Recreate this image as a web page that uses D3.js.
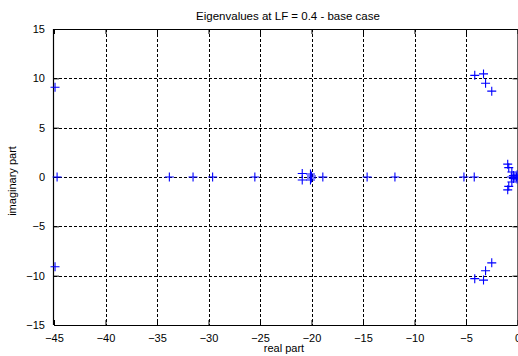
<!DOCTYPE html>
<html>
<head>
<meta charset="utf-8">
<script src="https://cdn.jsdelivr.net/npm/d3@7/dist/d3.min.js"></script>
<style>
  html, body { margin: 0; padding: 0; background: #fff; overflow: hidden; }
  svg { display: block; font-family: "Liberation Sans", Arial, sans-serif; }
</style>
</head>
<body>
<svg id="chart" width="518" height="356"></svg>
<script>
// Eigenvalues (real part, imaginary part) of the system at LF = 0.4
const realPart = [
  -44.9, -44.9, -44.7,
  -33.8, -31.5, -29.6, -25.5,
  -20.9, -20.9, -20.1, -20.1, -20.0, -20.0,
  -18.9, -14.6, -11.9, -5.2, -4.2,
  -4.15, -4.15, -3.3, -3.3, -3.1, -3.1, -2.5, -2.5,
  -0.95, -0.95, -0.85, -0.85, -0.55, -0.55, -0.6,
  -0.4, -0.4, -0.25, -0.1, -0.05, -0.05
];
const imagPart = [
  9.1, -9.1, 0,
  0, 0, 0, 0,
  0.35, -0.3, 0.3, -0.3, 0.1, -0.1,
  0, 0, 0, 0, 0,
  10.3, -10.3, 10.45, -10.45, 9.5, -9.5, 8.7, -8.7,
  1.3, -1.3, 0.95, -0.95, 0.5, -0.5, 0,
  0.15, -0.15, 0, 0, 0.2, -0.2
];
const xTicks = [-45, -40, -35, -30, -25, -20, -15, -10, -5, 0];
const yTicks = [-15, -10, -5, 0, 5, 10, 15];
const titleText = "Eigenvalues at LF = 0.4 - base case";
const xLabelText = "real part";
const yLabelText = "imaginary part";

const svg = d3.select("#chart");
const plotLeft = 54, plotRight = 517.5, plotTop = 29, plotBottom = 325;

const x = d3.scaleLinear().domain([-45, 0]).range([plotLeft, plotRight]);
const y = d3.scaleLinear().domain([-15, 15]).range([plotBottom, plotTop]);

// grid
const grid = svg.append("g").attr("stroke", "#000").attr("stroke-width", 1)
  .attr("stroke-dasharray", "3,2").attr("shape-rendering", "crispEdges");
grid.selectAll("line.gx").data(xTicks.slice(1, -1)).join("line")
  .attr("x1", d => Math.round(x(d)) + 0.5).attr("x2", d => Math.round(x(d)) + 0.5)
  .attr("y1", plotTop).attr("y2", plotBottom);
grid.selectAll("line.gy").data(yTicks.slice(1, -1)).join("line")
  .attr("x1", plotLeft).attr("x2", plotRight)
  .attr("y1", d => Math.round(y(d)) + 0.5).attr("y2", d => Math.round(y(d)) + 0.5);

// axes with inward ticks
const axisFont = "11px";
const gx = svg.append("g").attr("transform", `translate(0,${plotBottom})`)
  .call(d3.axisBottom(x).tickValues(xTicks).tickSize(-5).tickPadding(9)
    .tickFormat(d3.format("d")));
const gxTop = svg.append("g").attr("transform", `translate(0,${plotTop})`)
  .call(d3.axisTop(x).tickValues(xTicks).tickSize(-5).tickFormat(""));
const gy = svg.append("g").attr("transform", `translate(${plotLeft},0)`)
  .call(d3.axisLeft(y).tickValues(yTicks).tickSize(-5).tickPadding(9)
    .tickFormat(d3.format("d")));
const gyRight = svg.append("g").attr("transform", `translate(${plotRight},0)`)
  .call(d3.axisRight(y).tickValues(yTicks).tickSize(-5).tickFormat(""));

[gx, gxTop, gy, gyRight].forEach(g => {
  g.selectAll("path").attr("stroke", "#000").attr("stroke-width", 1.2);
  g.selectAll("line").attr("stroke", "#000");
  g.selectAll("text").attr("fill", "#000").attr("font-size", axisFont)
    .attr("font-family", "Liberation Sans, Arial, sans-serif");
});
gx.selectAll(".domain").attr("d", `M${plotLeft},0.5H${plotRight}`);
gxTop.selectAll(".domain").attr("d", `M${plotLeft},0.5H${plotRight}`);
gy.selectAll(".domain").attr("d", `M-0.5,${plotTop}V${plotBottom}`);
gyRight.selectAll(".domain").attr("d", `M0.5,${plotTop}V${plotBottom}`);

// markers
const pts = realPart.map((r, i) => [r, imagPart[i]]);
const arm = 4.5;
svg.append("g").attr("stroke", "#0000ff").attr("stroke-width", 1.1)
  .selectAll("path").data(pts).join("path")
  .attr("d", d => {
    const cx = x(d[0]), cy = y(d[1]);
    return `M${cx - arm},${cy}H${cx + arm}M${cx},${cy - arm}V${cy + arm}`;
  });

// labels
svg.append("text").attr("x", 288).attr("y", 20).attr("text-anchor", "middle")
  .attr("font-size", "11.5px").attr("fill", "#000").text(titleText);
svg.append("text").attr("x", 284).attr("y", 352).attr("text-anchor", "middle")
  .attr("font-size", "11px").attr("fill", "#000").text(xLabelText);
svg.append("text").attr("transform", "translate(16,181) rotate(-90)")
  .attr("text-anchor", "middle").attr("font-size", "11px").attr("fill", "#000")
  .text(yLabelText);
</script>
</body>
</html>
